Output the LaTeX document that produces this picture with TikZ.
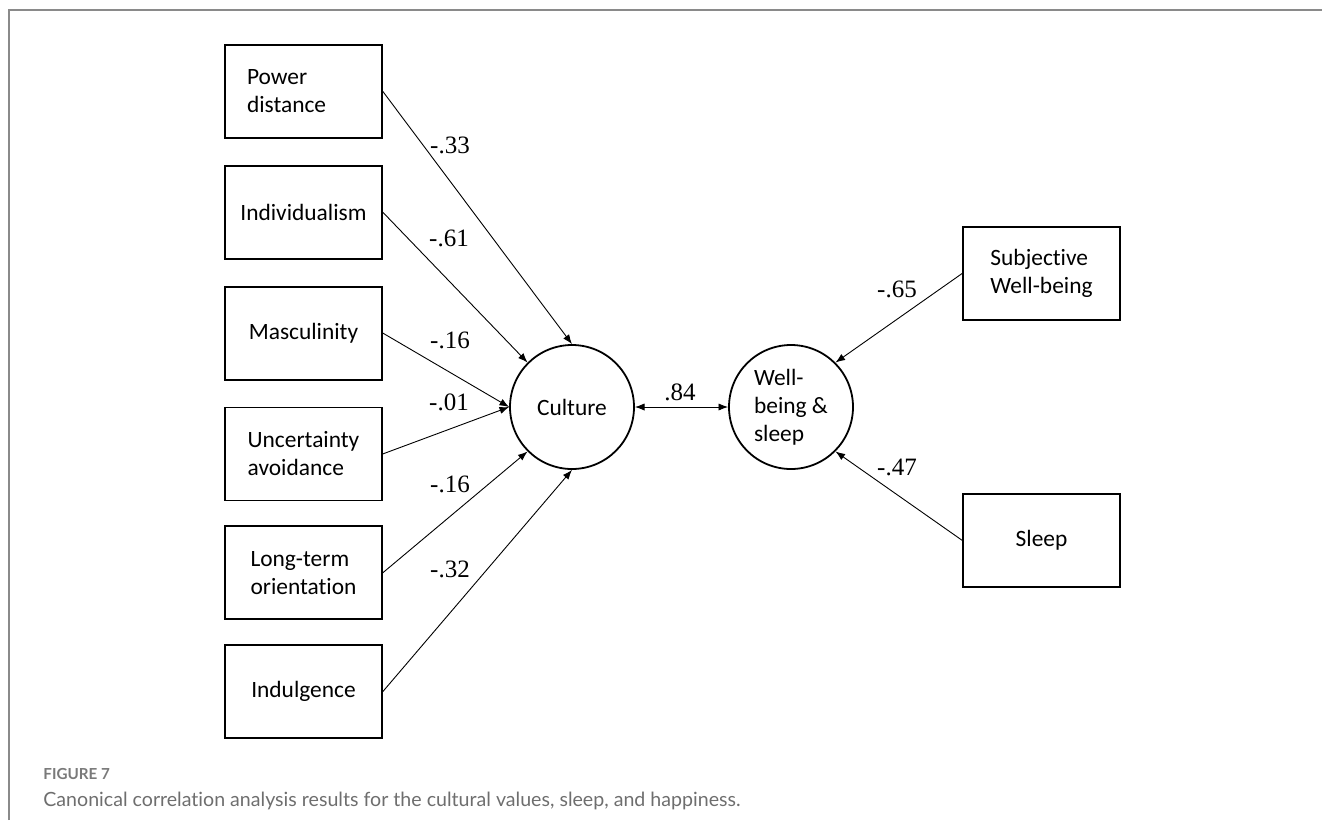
\documentclass[tikz,border=0pt]{standalone}
\usepackage{fontspec}
\setmainfont{Carlito}[Ligatures=NoCommon]
\newfontfamily\coeffont{Liberation Serif}
\newfontfamily\capfont{Lato}[Ligatures=NoCommon]
\usetikzlibrary{arrows.meta, positioning}
\usepackage{xcolor}
\definecolor{framegray}{HTML}{8A8A8A}
\definecolor{capgray}{HTML}{6E6E6E}
\definecolor{figgray}{HTML}{7A7A7A}

\begin{document}
\begin{tikzpicture}[x=0.5pt, y=-0.5pt,
    varbox/.style={rectangle, draw, line width=0.9pt, minimum width=78.5pt,
                   minimum height=46.5pt, align=left, inner sep=0pt,
                   font=\fontsize{11.7}{14}\selectfont},
    latent/.style={circle, draw, line width=0.9pt, minimum size=62pt,
                   align=left, inner sep=0pt, font=\fontsize{11.7}{14}\selectfont},
    arrow/.style={-{Latex[length=4.8pt, width=3.6pt]}, line width=0.45pt},
    twoway/.style={{Latex[length=4.8pt, width=3.6pt]}-{Latex[length=4.8pt, width=3.6pt]},
                   line width=0.45pt},
    coef/.style={font=\coeffont\fontsize{12.5}{14}\selectfont, inner sep=0pt}
  ]
    \useasboundingbox (0,0) rectangle (1322,820);
    \draw[framegray, line width=0.7pt] (9,820) -- (9,10) -- (1322,10);

    % cultural values
    \node[varbox, text width=56.5pt] (pd) at (303.5,91.5) {Power\\distance};
    \node[varbox, below=13pt of pd] (ind) {Individualism};
    \node[varbox, below=13pt of ind] (masc) {Masculinity};
    \node[varbox, below=13pt of masc] (ua) {Uncertainty\\avoidance};
    \node[varbox, below=12pt of ua] (lto) {Long-term\\orientation};
    \node[varbox, below=12pt of lto] (indu) {Indulgence};

    % latent variables
    \node[latent] (cult) at (572,407) {Culture};
    \node[latent] (wb) at (791,407) {Well-\\being \&\\sleep};

    % well-being indicators
    \node[varbox] (swb) at (1041.5,273.5) {Subjective\\Well-being};
    \node[varbox, below=86pt of swb] (slp) {Sleep};

    \draw[arrow] (pd.east) -- (cult.north);
    \draw[arrow] (ind.east) -- (cult.north west);
    \draw[arrow] (masc.east) -- (cult.west);
    \draw[arrow] (ua.east) -- (cult.west);
    \draw[arrow] (lto.east) -- (cult.south west);
    \draw[arrow] (indu.east) -- (cult.south);
    \draw[twoway] (cult) -- (wb);
    \draw[arrow] (swb.west) -- (wb.north east);
    \draw[arrow] (slp.west) -- (wb.south east);

    % loadings
    \node[coef] (cpd) at (450,145) {-.33};
    \node[coef] (cind) at (449,238) {-.61};
    \node[coef] (cmasc) at (450,340) {-.16};
    \node[coef] (cua) at (449,402) {-.01};
    \node[coef] (clto) at (450,484) {-.16};
    \node[coef] (cindu) at (450,569) {-.32};
    \node[coef] (ccor) at (680,392) {.84};
    \node[coef] (cswb) at (897,289) {-.65};
    \node[coef] (cslp) at (897,467) {-.47};

    % caption
    \node[anchor=base west, inner sep=0pt, text=figgray,
          font=\capfont\bfseries\fontsize{7.6}{9}\selectfont] (fig) at (43,779) {FIGURE 7};
    \node[anchor=base west, inner sep=0pt, text=capgray,
          font=\capfont\fontsize{9.8}{11}\selectfont] (cap) at (43,806)
          {Canonical correlation analysis results for the cultural values, sleep, and happiness.};
\end{tikzpicture}
\end{document}
